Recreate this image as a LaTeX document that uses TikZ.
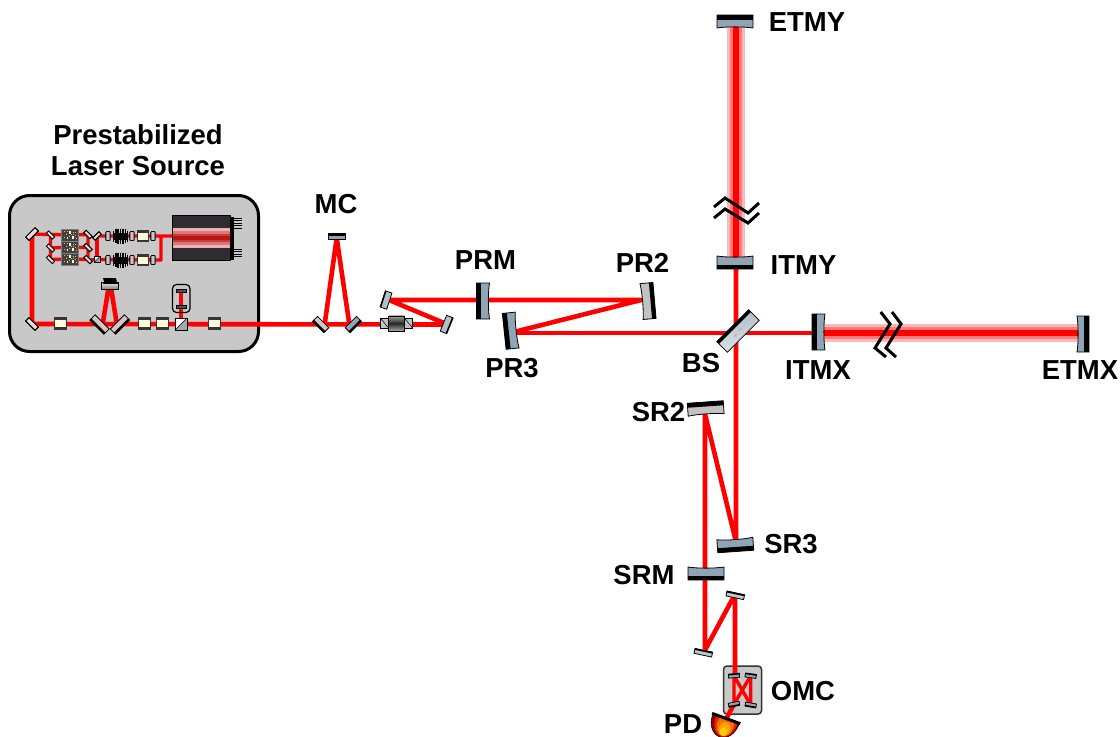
\documentclass[tikz,border=0pt]{standalone}
\usepackage{fontspec}
\setmainfont{Liberation Sans}
\definecolor{mblue}{HTML}{8FA5B5}
\definecolor{mgrey}{HTML}{C2C2C2}
\definecolor{boxgrey}{HTML}{C8C8C8}
\definecolor{cream}{HTML}{FFFBE0}
\definecolor{darkb}{HTML}{2F2B30}
\definecolor{blockd}{HTML}{3A352C}
\definecolor{lasera}{HTML}{EBB0B0}
\definecolor{laserb}{HTML}{DC7878}
\definecolor{laserc}{HTML}{C83C3C}
\definecolor{laserd}{HTML}{B81515}
\newcommand{\px}{0.75pt}
\tikzset{
  lab/.style={font=\fontsize{20.6}{24}\selectfont\bfseries,inner sep=0pt,text=black},
  beam/.style={draw=red,line width=4.6*\px,line join=round},
  thinbeam/.style={draw=red,line width=3.4*\px,line join=round},
  armouter/.style={draw=red!28,line width=18.5*\px},
  armmid/.style={draw=red!52,line width=12*\px},
  armcore/.style={draw=red,line width=6.5*\px},
  breakline/.style={draw=black,line width=3*\px,line join=miter},
  blue mir/.style={fill=mblue},
  grey mir/.style={fill=mgrey},
  pale mir/.style={fill=boxgrey!60!white},
}
% name, rotation, length, width, black band, sag, fill style
\newcommand{\mymirror}[7]{%
  \begin{scope}[shift={(#1)},rotate=#2]
    \path[draw=black,line width=0.8*\px,#7]
      (-#3/2,-#4/2) -- (#3/2,-#4/2) -- (#3/2,#4/2)
      .. controls (#3/4,#4/2-#6) and (-#3/4,#4/2-#6) .. (-#3/2,#4/2) -- cycle;
    \fill[black] (-#3/2,-#4/2) rectangle (#3/2,-#4/2+#5);
  \end{scope}}
\newcommand{\myblock}[1]{%
  \begin{scope}[shift={(#1)}]
    \fill[blockd] (-6.5,-6.5) rectangle (6.5,6.5);
    \fill[cream] (-5.5,-3.5) rectangle (5.5,3.5);
  \end{scope}}
\newcommand{\mylens}[1]{%
  \path[shift={(#1)},draw=black,line width=0.6*\px,fill=mblue!60!white,rounded corners=0.5pt] (-2,-4.5) rectangle (2,4.5);}
\newcommand{\mycoil}[1]{%
  \begin{scope}[shift={(#1)}]
    \fill[black] (-7.5,-3.5) rectangle (7.5,3.5);
    \foreach \i/\h in {-7/5.5,-4.7/7,-2.35/7.5,0/7.5,2.35/7.5,4.7/7,7/5.5}
      \draw[black,line width=1.4*\px] (\i,-\h) -- (\i,\h);
  \end{scope}}
\newcommand{\myamp}[1]{%
  \begin{scope}[shift={(#1)}]
    \path[draw=gray,line width=1*\px,fill=darkb!90!white] (-8.5,-6) rectangle (8.5,6);
    \fill[white] (-1.5,-4) rectangle (1,-1.5);
    \fill[white] (1.5,1) rectangle (3.5,4);
    \fill[white] (-3.5,1.5) rectangle (-2,3.5);
    \foreach \i/\j in {-6/-3.5,-4/-1,-6/2,-3/-3.5,3/-3,5.5/-3,3/-0.5,5.5/0,-1/1,1/-0.5,6/3}
      \fill[yellow!75!olive] (\i-0.5,\j-0.5) rectangle (\i+0.5,\j+0.5);
  \end{scope}}
\newcommand{\mycube}[2]{%
  \begin{scope}[shift={(#1)}]
    \path[draw=black,line width=0.7*\px,fill=white] (-#2,-#2) rectangle (#2,#2);
    \fill[gray!70] (-#2,#2) -- (#2,-#2) -- (#2,#2) -- cycle;
    \draw[black,line width=0.4*\px] (-#2,#2) -- (#2,-#2);
    \draw[black,line width=0.7*\px] (-#2,-#2) rectangle (#2,#2);
  \end{scope}}
\begin{document}
\begin{tikzpicture}[x=\px,y=-\px,line cap=butt]
\useasboundingbox (0,0) rectangle (1120,736);
\clip (0,0) rectangle (1120,736);
% ---- coordinates of the optics
\coordinate (mTL) at (32,234);
\coordinate (mBL) at (32,324);
\coordinate (s1) at (50.5,235);
\coordinate (s2) at (50.5,248);
\coordinate (s3) at (50.5,259.5);
\coordinate (a1) at (70,235);
\coordinate (a2) at (70,247);
\coordinate (a3) at (70,259);
\coordinate (r1) at (88,234.5);
\coordinate (r2) at (88,247.5);
\coordinate (r3) at (88,259.5);
\coordinate (r4) at (97,236);
\coordinate (cubeA) at (97,259.5);
\coordinate (laser) at (173,236);
\coordinate (bend) at (161,236);
\coordinate (bend2) at (161,260);
\coordinate (bmir1) at (99.5,324.5);
\coordinate (bmir2) at (120,324.5);
\coordinate (bmirT) at (109.7,286);
\coordinate (cube) at (181,324);
\coordinate (cavT) at (181,291);
\coordinate (cavB) at (181,306.7);
\coordinate (mc1) at (320.7,324.5);
\coordinate (mc2) at (353.3,324.5);
\coordinate (mc3) at (336.7,236.7);
\coordinate (st1) at (446.7,324.5);
\coordinate (st2) at (386,300);
\coordinate (prm) at (483,301);
\coordinate (pr2) at (648,301);
\coordinate (pr3) at (510.7,330.7);
\coordinate (bs) at (738,331);
\coordinate (itmx) at (818.5,332);
\coordinate (etmx) at (1083,334);
\coordinate (itmy) at (735,262.5);
\coordinate (etmy) at (735,21.5);
\coordinate (sr2) at (705.7,408.5);
\coordinate (sr3) at (735.3,545);
\coordinate (srm) at (706,573.5);
\coordinate (f1) at (703.3,652.7);
\coordinate (f2) at (735.3,595.3);
\coordinate (o1) at (734,675.7);
\coordinate (o2) at (750.7,675.7);
\coordinate (o3) at (734,704.3);
\coordinate (o4) at (750.7,705);
\coordinate (pd) at (726,719);
\coordinate (armx1) at (820,333);
\coordinate (armx2) at (1080,333);
\coordinate (army1) at (736,26);
\coordinate (army2) at (736,258);
% ---- boxes
\path[draw=black,line width=3*\px,fill=boxgrey,rounded corners=15pt] (9.5,195.5) rectangle (258.5,351.5);
\path[draw=black!80,line width=1.5*\px,fill=boxgrey,rounded corners=2.5pt] (723.5,666) rectangle (761.5,714);
% ---- arms
\foreach \s in {armouter,armmid,armcore} {
  \draw[\s] (army1) -- (army2);
  \draw[\s] (armx1) -- (armx2);
}
% ---- beams inside the laser source
\draw[thinbeam] (mTL) -- (a1) (a3) -- (s3) (s1) -- (s3) (s2) -- (a2);
\draw[thinbeam] (a1) -- (r1) (a2) -- (r2) (a3) -- (r3) (r1) -- (r3);
\draw[thinbeam] (r4) -- (cubeA) (r3) -- (cubeA);
\draw[thinbeam] (r4) -- (laser) (cubeA) -- (bend2) -- (bend);
\draw[beam] (mTL) -- (mBL) -- (st1);
\draw[beam] (103,322) -- (108.5,288) (116.5,322) -- (111,288);
\draw[thinbeam] (cube) -- (cavT);
% ---- input optics beams
\draw[beam] (325,322) -- (336.7,238) -- (349,322);
\draw[beam] (444,323) -- (389,300) -- (641,300) -- (514,332);
\draw[beam] (514,333) -- (armx1);
\draw[beam] (736,268) -- (736,542) -- (705,414) -- (705,650) -- (733,598) -- (735,598) -- (735,676);
\draw[thinbeam] (o1) -- (o3) -- (o2) -- (o4) -- (o1);
\draw[beam] (o3) -- (pd);
% ---- laser head
\path[draw=black,line width=0.9*\px,fill=darkb] (172.7,215) rectangle (230.7,260.5);
\fill[black] (230.7,217) rectangle (234,260);
\foreach \y in {218,220.5,223,225.5,228,249,251.5,254,256.5}
  \draw[black,line width=1*\px] (234,\y) -- (242,\y);
\fill[lasera] (173.2,228) rectangle (230.2,248);
\fill[laserb] (173.2,231) rectangle (230.2,245);
\fill[laserc] (173.2,234) rectangle (230.2,242);
\fill[laserd] (173.2,236) rectangle (230.2,240);
% ---- amplifier row
\myamp{a1} \myamp{a2} \myamp{a3}
\foreach \c in {s1,s2,s3} \mymirror{\c}{-45}{8.5}{3.2}{0}{0}{pale mir}
\mymirror{r1}{-45}{8.5}{3.2}{0}{0}{pale mir}
\mymirror{r2}{-45}{8.5}{3.2}{0}{0}{pale mir}
\mymirror{r3}{-45}{8.5}{3.2}{0}{0}{pale mir}
\mymirror{r4}{45}{8.5}{3.2}{0}{0}{pale mir}
\mycube{cubeA}{3}
\mymirror{mTL}{45}{13}{4.5}{0}{0}{pale mir}
\mymirror{mBL}{-45}{13}{4.5}{0}{0}{pale mir}
\foreach \y in {236,260} {
  \coordinate (tmp) at (108,\y); \mylens{tmp}
  \coordinate (tmp) at (120.5,\y); \mycoil{tmp}
  \coordinate (tmp) at (132,\y); \mylens{tmp}
  \coordinate (tmp) at (143,\y);
  \begin{scope}[shift={(tmp)}]
    \fill[blockd] (-6,-6) rectangle (6,6);
    \fill[cream] (-5,-3) rectangle (5,3.5);
  \end{scope}
  \coordinate (tmp) at (153,\y); \mylens{tmp}
}
% ---- lower row
\coordinate (b1) at (60.5,323.5); \myblock{b1}
\coordinate (b2) at (144.3,323.5); \myblock{b2}
\coordinate (b3) at (162.3,323.5); \myblock{b3}
\coordinate (b4) at (214,323.5); \myblock{b4}
\mycube{cube}{6}
\mymirror{bmir1}{135}{20}{7.5}{2.2}{0}{fill=red!12!mgrey!70!white}
\mymirror{bmir2}{225}{20}{7.5}{2.2}{0}{fill=red!12!mgrey!70!white}
\mymirror{bmirT}{180}{17}{6.5}{0}{0}{top color=mblue!30!white,bottom color=gray}
\fill[black] (103,278) -- (104.5,283) -- (115,283) -- (117,283) -- (116,278) -- cycle;
\fill[black] (102.5,282.5) rectangle (117.5,283.5);
% ---- small cavity
\path[draw=black,line width=1.2*\px,rounded corners=3pt] (172.5,284.5) rectangle (190,312.5);
\mymirror{cavT}{0}{10}{3.5}{0}{0}{fill=darkb!70!mblue}
\mymirror{cavB}{0}{10}{3.5}{0}{0}{fill=darkb!70!mblue}
% ---- mode cleaner and steering
\mymirror{mc1}{135}{16}{7}{2}{0}{fill=red!12!mgrey!70!white}
\mymirror{mc2}{225}{16}{7}{2}{0}{fill=mblue}
\mymirror{mc3}{0}{17}{6}{2.2}{0}{blue mir}
\mymirror{st1}{-112}{17}{7}{1.2}{0}{fill=mblue!70!white}
\mymirror{st2}{72}{17}{7}{1.2}{0}{fill=mblue!70!white}
% ---- Faraday isolator
\coordinate (fi) at (396.7,323.3);
\begin{scope}[shift={(fi)}]
  \path[draw=black,line width=0.5*\px,fill=mgrey] (-16,-5) rectangle (16,5);
  \draw[black,line width=0.5*\px] (-16,-5) -- (-8,5) (8,-5) -- (16,5);
  \path[draw=black,line width=0.5*\px,top color=gray!70,bottom color=gray!70,middle color=black!85] (-8,-7.5) rectangle (8,7.5);
\end{scope}
% ---- main mirrors
\mymirror{prm}{90}{36}{13}{4.5}{1.5}{blue mir}
\mymirror{pr2}{-85}{36}{13}{4}{1.5}{grey mir}
\mymirror{pr3}{96}{36}{13}{4.5}{1.5}{blue mir}
\mymirror{itmx}{90}{36}{13}{4.5}{1.5}{blue mir}
\mymirror{etmx}{-90}{36}{12}{5}{1.5}{blue mir}
\mymirror{itmy}{180}{36}{13}{4.5}{1.5}{blue mir}
\mymirror{etmy}{0}{36}{13}{5}{1.5}{blue mir}
\mymirror{sr2}{4}{36}{13}{4.5}{1.5}{grey mir}
\mymirror{sr3}{184}{36}{13}{4.5}{1.5}{blue mir}
\mymirror{srm}{180}{36}{13}{4.5}{1.5}{blue mir}
\mymirror{bs}{45}{45}{15}{3.2}{0}{top color=mblue!70!white,bottom color=mblue!35!white}
\draw[red!55,line width=0.5*\px,dashed] (734,337) -- (743,326);
% ---- breaks
\draw[breakline] (714,207) -- (725,198) -- (748,213) -- (759,203);
\draw[breakline] (714,218) -- (725,209) -- (748,223) -- (759,213);
\draw[breakline] (880.7,312) -- (890,324) -- (875,348) -- (886,357);
\draw[breakline] (892,312) -- (901,324) -- (886,348) -- (896,357);
% ---- folding mirrors
\mymirror{f1}{-12}{18}{5}{1.5}{0}{fill=mblue!60!white}
\mymirror{f2}{-12}{18}{5}{1.5}{0}{fill=mblue!60!white}
% ---- OMC mirrors
\mymirror{o1}{5}{11}{4}{1.3}{0}{fill=mblue}
\mymirror{o2}{-8}{11}{4}{1.3}{0}{fill=mblue}
\mymirror{o3}{-170}{11}{4}{1.3}{0}{fill=mblue}
\mymirror{o4}{170}{11}{4}{1.3}{0}{fill=mblue}
% ---- photodiode
\begin{scope}[shift={(pd)},rotate=-20]
  \begin{scope}
    \clip (-15,0) rectangle (15,24);
    \path[draw=black,line width=0.5*\px,fill=red!60!black] (0,1) ellipse [x radius=14,y radius=18];
    \fill[red!60!orange!85!black] (1,3) ellipse [x radius=11,y radius=15];
    \fill[orange!85!red] (1.5,6) ellipse [x radius=8.5,y radius=11];
    \fill[orange!70!yellow] (2,10) ellipse [x radius=6,y radius=7];
    \fill[yellow!70!orange] (2,13) ellipse [x radius=3.5,y radius=4];
  \end{scope}
  \fill[black] (-15,-2) rectangle (15,1);
\end{scope}
% ---- labels
\node[lab] (lpsl1) at (138,135) {Prestabilized};
\node[lab] (lpsl2) at (138,166) {Laser Source};
\node[lab] (lmc) at (336,204) {MC};
\node[lab] (lprm) at (485.5,260) {PRM};
\node[lab] (lpr2) at (642.5,263) {PR2};
\node[lab] (lpr3) at (512,368) {PR3};
\node[lab] (lbs) at (701,363) {BS};
\node[lab] (litmy) at (803.5,265) {ITMY};
\node[lab] (litmx) at (818,370) {ITMX};
\node[lab] (letmy) at (807,22) {ETMY};
\node[lab] (letmx) at (1080,370) {ETMX};
\node[lab] (lsr2) at (658.5,412) {SR2};
\node[lab] (lsr3) at (791,544) {SR3};
\node[lab] (lsrm) at (644,575) {SRM};
\node[lab] (lomc) at (803,691) {OMC};
\node[lab] (lpd) at (683,724) {PD};
\end{tikzpicture}
\end{document}
